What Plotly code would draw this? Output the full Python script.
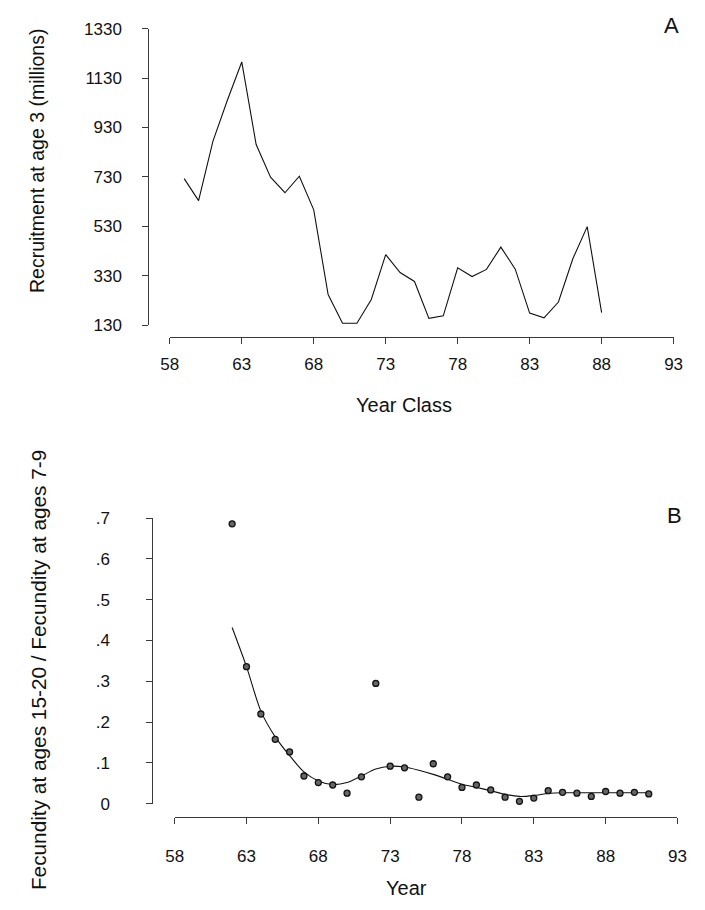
import plotly.graph_objects as go

# Panel A: recruitment at age 3 (millions) by year class
yearclass = list(range(59, 89))
recruit = [723, 634, 875, 1040, 1195, 861, 729, 666, 733, 597, 254, 138, 138, 234,
           416, 343, 307, 158, 168, 362, 327, 356, 446, 357, 179, 160, 224, 399, 529, 181]

# Panel B: fecundity ratio by year (points) and smooth fit
year_pts = list(range(62, 92))
ratio_pts = [0.686, 0.336, 0.220, 0.158, 0.127, 0.068, 0.052, 0.046, 0.026, 0.066,
             0.295, 0.092, 0.088, 0.016, 0.098, 0.066, 0.040, 0.046, 0.034, 0.016,
             0.006, 0.014, 0.032, 0.028, 0.026, 0.018, 0.030, 0.026, 0.028, 0.024]
year_fit = list(range(62, 92))
ratio_fit = [0.432, 0.336, 0.227, 0.164, 0.118, 0.078, 0.056, 0.047, 0.052, 0.068,
             0.085, 0.092, 0.090, 0.082, 0.072, 0.060, 0.048, 0.040, 0.032, 0.023,
             0.018, 0.020, 0.025, 0.027, 0.027, 0.027, 0.027, 0.027, 0.027, 0.027]

xticks = [58, 63, 68, 73, 78, 83, 88, 93]
yticksA = [130, 330, 530, 730, 930, 1130, 1330]
yticksB = [0, 0.1, 0.2, 0.3, 0.4, 0.5, 0.6, 0.7]
yticktextB = ["0", ".1", ".2", ".3", ".4", ".5", ".6", ".7"]

W, H = 705, 910
def px(x):
    return x / W
def py(y):
    return 1 - y / H

FONT = "Liberation Sans, Arial, sans-serif"
INK = "#111111"
AX = "#3a3a3a"

fig = go.Figure()
fig.add_trace(go.Scatter(x=yearclass, y=recruit, mode="lines",
                         line=dict(color=INK, width=1.1), xaxis="x", yaxis="y",
                         showlegend=False))
fig.add_trace(go.Scatter(x=year_fit, y=ratio_fit, mode="lines",
                         line=dict(color=INK, width=1.1, shape="spline", smoothing=0.8),
                         xaxis="x2", yaxis="y2", showlegend=False))
fig.add_trace(go.Scatter(x=year_pts, y=ratio_pts, mode="markers",
                         marker=dict(color="#666666", size=6,
                                     line=dict(color=INK, width=1.3)),
                         xaxis="x2", yaxis="y2", showlegend=False, cliponaxis=False))

common = dict(showgrid=False, zeroline=False, showline=True, linecolor=AX, linewidth=1,
              ticks="outside", tickcolor=AX, ticklen=6, tickwidth=1,
              tickfont=dict(family=FONT, size=17, color=INK))

fig.update_layout(
    width=W, height=H, autosize=False,
    margin=dict(l=0, r=0, t=0, b=0),
    paper_bgcolor="white", plot_bgcolor="white",
    xaxis=dict(domain=[px(165), px(682)], range=[58, 93], tickvals=xticks,
               anchor="free", position=py(335), ticklabelstandoff=6, **common),
    yaxis=dict(domain=[py(323), py(20)], range=[130, 1330], tickvals=yticksA,
               anchor="free", position=px(143), ticklabelstandoff=17, **common),
    xaxis2=dict(domain=[px(170), px(686)], range=[58, 93], tickvals=xticks,
                anchor="free", position=py(825), ticklabelstandoff=18, **common),
    yaxis2=dict(domain=[py(811.7), py(520)], range=[0, 0.7], tickvals=yticksB,
                ticktext=yticktextB, anchor="free", position=px(147),
                ticklabelstandoff=33, **common),
)

fig.add_annotation(text="Recruitment at age 3 (millions)", x=px(29), y=py(155),
                   xref="paper", yref="paper", textangle=-90, showarrow=False,
                   font=dict(family=FONT, size=19.5, color=INK),
                   xanchor="center", yanchor="middle")
fig.add_annotation(text="Year Class", x=px(405), y=py(404), xref="paper", yref="paper",
                   showarrow=False, font=dict(family=FONT, size=20, color=INK),
                   xanchor="center", yanchor="middle")
fig.add_annotation(text="Fecundity at ages 15-20 / Fecundity at ages 7-9", x=px(31),
                   y=py(675), xref="paper", yref="paper", textangle=-90, showarrow=False,
                   font=dict(family=FONT, size=20.8, color=INK),
                   xanchor="center", yanchor="middle")
fig.add_annotation(text="Year", x=px(408), y=py(898), xref="paper", yref="paper",
                   showarrow=False, font=dict(family=FONT, size=20, color=INK),
                   xanchor="center", yanchor="middle")
fig.add_annotation(text="A", x=px(680), y=py(17), xref="paper", yref="paper",
                   showarrow=False, font=dict(family=FONT, size=22, color=INK),
                   xanchor="center", yanchor="middle")
fig.add_annotation(text="B", x=px(683), y=py(517), xref="paper", yref="paper",
                   showarrow=False, font=dict(family=FONT, size=22, color=INK),
                   xanchor="center", yanchor="middle")

fig.write_html("out.html")
